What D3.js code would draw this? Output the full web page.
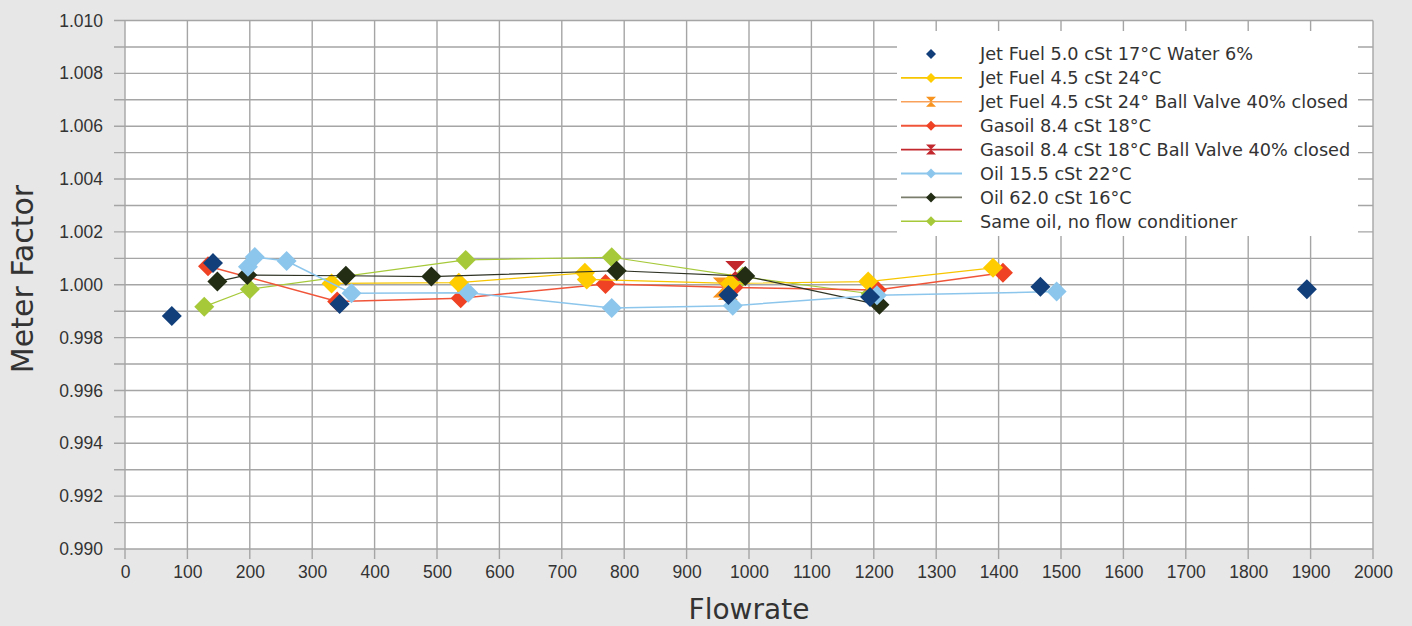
<!DOCTYPE html>
<html>
<head>
<meta charset="utf-8">
<script src="https://cdn.jsdelivr.net/npm/d3@7"></script>
<style>
  body { margin: 0; background: #e7e7e7; }
  svg { display: block; font-family: "DejaVu Sans", sans-serif; }
  .tick text { fill: #333; font-size: 17.5px; }
</style>
</head>
<body>
<script>
var w = 1412;
var h = 626;
var margin = { top: 20.5, right: 39, bottom: 77, left: 125 };

// x ticks and y ticks
var xTicks = d3.range(0, 2001, 100);
var yTicks = [0.990, 0.992, 0.994, 0.996, 0.998, 1.000, 1.002, 1.004, 1.006, 1.008, 1.010];
var yGrid = d3.range(0, 21).map(function(i) { return 0.990 + i * 0.001; });

// series names
var names = [
  "Jet Fuel 5.0 cSt 17°C Water 6%",
  "Jet Fuel 4.5 cSt 24°C",
  "Jet Fuel 4.5 cSt 24° Ball Valve 40% closed",
  "Gasoil 8.4 cSt 18°C",
  "Gasoil 8.4 cSt 18°C Ball Valve 40% closed",
  "Oil 15.5 cSt 22°C",
  "Oil 62.0 cSt 16°C",
  "Same oil, no flow conditioner"
];

// flow / meter factor per series
var jetWaterFlow = [75, 141, 344, 967, 1194, 1467, 1894];
var jetWaterMF   = [0.99882, 1.00082, 0.99927, 0.99961, 0.99954, 0.99992, 0.99983];

var jetFlow = [331, 535, 737, 740, 970, 1191, 1391];
var jetMF   = [1.00005, 1.00008, 1.00045, 1.00020, 1.00005, 1.00012, 1.00064];

var jetValveFlow = [958, 966];
var jetValveMF   = [0.99990, 0.99980];

var gasFlow = [133, 340, 538, 770, 975, 1205, 1407];
var gasMF   = [1.00070, 0.99937, 0.99949, 1.00003, 0.99990, 0.99980, 1.00045];

var gasValveFlow = [978];
var gasValveMF   = [1.00052];

var oil15Flow = [197, 208, 259, 363, 550, 780, 974, 1205, 1493];
var oil15MF   = [1.00068, 1.00105, 1.00090, 0.99968, 0.99970, 0.99912, 0.99921, 0.99960, 0.99974];

var oil62Flow = [148, 196, 354, 491, 788, 994, 1209];
var oil62MF   = [1.00012, 1.00037, 1.00034, 1.00031, 1.00053, 1.00033, 0.99924];

var noCondFlow = [127, 200, 546, 780, 990, 1195];
var noCondMF   = [0.99917, 0.99983, 1.00094, 1.00104, 1.00030, 0.99966];

var series = [
  { name: names[0], flow: jetWaterFlow, mf: jetWaterMF, color: "#123f7a", line: null, lw: 0, shape: "diamond" },
  { name: names[1], flow: jetFlow, mf: jetMF, color: "#ffcc00", line: "#f7c600", lw: 1.2, shape: "diamond" },
  { name: names[2], flow: jetValveFlow, mf: jetValveMF, color: "#f7931e", line: "#f9a15a", lw: 1.2, shape: "hourglass" },
  { name: names[3], flow: gasFlow, mf: gasMF, color: "#ef4123", line: "#f0553a", lw: 1.5, shape: "diamond" },
  { name: names[4], flow: gasValveFlow, mf: gasValveMF, color: "#c1272d", line: "#c1272d", lw: 1.2, shape: "hourglass" },
  { name: names[5], flow: oil15Flow, mf: oil15MF, color: "#8dc6ec", line: "#8dc6ec", lw: 1.5, shape: "diamond" },
  { name: names[6], flow: oil62Flow, mf: oil62MF, color: "#222d14", line: "#2e3324", lw: 1.2, shape: "diamond" },
  { name: names[7], flow: noCondFlow, mf: noCondMF, color: "#a6c93a", line: "#a6c93a", lw: 1.2, shape: "diamond" }
];

// order the series are painted in (last one on top)
var drawOrder = [7, 3, 4, 2, 1, 6, 5, 0];

var x = d3.scaleLinear().domain([0, 2000]).range([margin.left, w - margin.right]);
var y = d3.scaleLinear().domain([0.990, 1.010]).range([h - margin.bottom, margin.top]);

var svg = d3.select("body").append("svg").attr("width", w).attr("height", h);

svg.append("rect")
  .attr("x", x(0)).attr("y", y(1.010))
  .attr("width", x(2000) - x(0)).attr("height", y(0.990) - y(1.010))
  .attr("fill", "#fff");

// grid
svg.append("g").selectAll("line.hg")
  .data(yGrid).enter().append("line")
  .attr("x1", x(0) - 11).attr("x2", x(2000))
  .attr("y1", function(d) { return y(d); }).attr("y2", function(d) { return y(d); })
  .attr("stroke", "#a5a5a5").attr("stroke-width", 1.4);

svg.append("g").selectAll("line.vg")
  .data(xTicks).enter().append("line")
  .attr("x1", function(d) { return x(d); }).attr("x2", function(d) { return x(d); })
  .attr("y1", y(1.010)).attr("y2", y(0.990) + 10)
  .attr("stroke", "#a5a5a5").attr("stroke-width", 1.4);

// axes (labels only)
var xAxis = svg.append("g")
  .attr("transform", "translate(0," + y(0.990) + ")")
  .call(d3.axisBottom(x).tickValues(xTicks).tickSize(0).tickPadding(17).tickFormat(d3.format("d")));
xAxis.select(".domain").remove();

var yAxis = svg.append("g")
  .attr("transform", "translate(" + x(0) + ",0)")
  .call(d3.axisLeft(y).tickValues(yTicks).tickSize(0).tickPadding(22).tickFormat(d3.format(".3f")));
yAxis.select(".domain").remove();

svg.append("text")
  .attr("x", (x(0) + x(2000)) / 2).attr("y", 619)
  .attr("text-anchor", "middle")
  .attr("fill", "#333").style("font-size", "28px")
  .text("Flowrate");

svg.append("text")
  .attr("transform", "translate(33,279) rotate(-90)")
  .attr("text-anchor", "middle")
  .attr("fill", "#333").style("font-size", "30px")
  .text("Meter Factor");

function symbolPath(shape, r) {
  if (shape == "diamond") {
    return "M0," + (-r) + "L" + r + ",0L0," + r + "L" + (-r) + ",0Z";
  }
  // two triangles, point to point
  return "M" + (-r) + "," + (-r) + "L" + r + "," + (-r) + "L0,0Z" +
         "M" + (-r) + "," + r + "L" + r + "," + r + "L0,0Z";
}

var line = d3.line()
  .x(function(d) { return x(d[0]); })
  .y(function(d) { return y(d[1]); });

drawOrder.forEach(function(k) {
  var s = series[k];
  var pts = s.flow.map(function(f, i) { return [f, s.mf[i]]; });
  var g = svg.append("g");
  if (s.line) {
    g.append("path")
      .attr("d", line(pts))
      .attr("fill", "none")
      .attr("stroke", s.line)
      .attr("stroke-width", s.lw);
  }
  g.selectAll("path.pt")
    .data(pts).enter().append("path")
    .attr("class", "pt")
    .attr("transform", function(d) { return "translate(" + x(d[0]) + "," + y(d[1]) + ")"; })
    .attr("d", symbolPath(s.shape, 10))
    .attr("fill", s.color);
});

// legend
var legend = svg.append("g").attr("transform", "translate(897,31)");
legend.append("rect")
  .attr("width", 461).attr("height", 205)
  .attr("fill", "#fff");

var items = legend.selectAll(".item")
  .data(series).enter().append("g")
  .attr("class", "item")
  .attr("transform", function(d, i) { return "translate(0," + (23 + i * 23.9) + ")"; });

items.filter(function(d) { return d.line; })
  .append("line")
  .attr("x1", 4).attr("x2", 65)
  .attr("stroke", function(d) { return d.name == names[6] ? "#7b7d6c" : d.line; })
  .attr("stroke-width", function(d) { return d.lw + 0.4; });

items.append("path")
  .attr("transform", "translate(34,0)")
  .attr("d", function(d) { return symbolPath(d.shape, 5); })
  .attr("fill", function(d) { return d.color; });

items.append("text")
  .attr("x", 83).attr("dy", "0.35em")
  .attr("fill", "#333")
  .style("font-size", "17.7px")
  .text(function(d) { return d.name; });
</script>
</body>
</html>
